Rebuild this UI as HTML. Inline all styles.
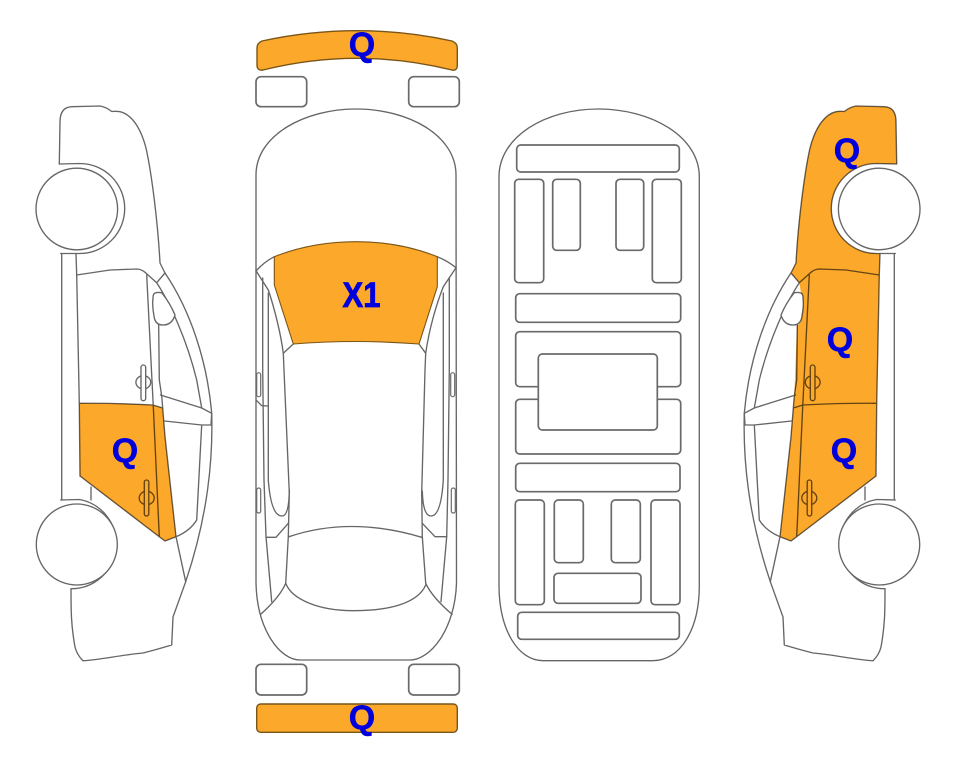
<!DOCTYPE html>
<html><head><meta charset="utf-8"><style>
html,body{margin:0;padding:0;background:#fff}
svg{display:block}
.l{fill:none;stroke:#666;stroke-width:1.35;stroke-linejoin:round;stroke-linecap:round}
.w{fill:#fff;stroke:#666;stroke-width:1.35}
.b{fill:#fff;stroke:#6a6a6a;stroke-width:1.7}
.o{fill:#fca82a;stroke:none;mix-blend-mode:multiply}
.f{fill:#fca82a;stroke:#7a5518;stroke-width:1.4;stroke-linejoin:round}
text{font-family:"Liberation Sans",sans-serif;font-weight:bold;fill:#0000dc;stroke:#0000dc;stroke-width:.5;text-anchor:middle;font-size:34px}
</style></head><body>
<svg width="963" height="768" viewBox="0 0 963 768" xmlns="http://www.w3.org/2000/svg">
<rect width="963" height="768" fill="#fff"/>
<defs>
<g id="car">
<path class="l" d="M59.3 164L60 122Q60 107 72 106.7L100 106Q106 107 111.7 111.5Q116 111 120 111.7C130 114 140 125 146 148C152 175 158 225 160 263L165 273C190 310 207 360 211.7 413C213 460 208 515 185.7 581.7L173 617L171.7 645Q155 650 143 653C120 655 100 660 83 660.7Q77 655 75 647C71 625 71 610 71 589"/>
<path class="l" d="M59.3 164L79.7 163.5A45 45 0 0 1 79.7 253.5L60.7 253.5"/>
<path class="l" d="M60.7 500L79.7 499.5A45 45 0 0 1 71 588.7"/>
<circle class="w" cx="76.8" cy="209" r="40.8"/>
<circle class="w" cx="76.8" cy="544.5" r="40.5"/>
<path class="l" d="M61.7 253.5L61.7 500M76 253.5L76.7 275L79.3 403.3L80 476M91 487L91 500"/>
<path class="l" d="M76.7 275L110 270L136.7 269Q141 269 145 272.3L156.7 282.7C170 303 187 340 196.7 380L201.7 408"/>
<path class="l" d="M165 273L156.7 282.7"/>
<path class="l" d="M146.7 275L153.3 406.7L159.3 536.7"/>
<path class="l" d="M158.3 293L159.3 380L161.7 396L165 436.7L176 536.7L185.7 581.7"/>
<path class="w" d="M155 293Q158 292 161.7 292.7Q170 303 175 315Q172 325 163 325Q155 325 154 316Q152 305 153 298Q153 294 155 293Z"/>
<path class="l" d="M160.5 395L201.7 408L211.7 413.3L211 425L201.7 425L164.5 421"/>
<path class="l" d="M201.7 425L196.7 520Q190 531 176 536.7L165 541L158.3 536L80 476"/>
<path class="l" d="M79.3 403.3Q115 403 153 405L162.7 408"/>
<ellipse class="l" cx="143.3" cy="382.3" rx="7.4" ry="6.6"/>
<rect class="w" x="141" y="365" width="4.7" height="35.7" rx="2.3"/>
<ellipse class="l" cx="146.7" cy="498" rx="7.5" ry="6.8"/>
<rect class="w" x="144.3" y="480" width="4.5" height="36" rx="2.2"/>
</g>
</defs>

<!-- left car -->
<use href="#car"/>
<path class="o" d="M79.3 403.3Q115 403 153 405L162.7 408L165 436.7L176 536.7L165 541L158.3 536L80 476Z"/>

<!-- right car -->
<g transform="translate(956 0) scale(-1 1)">
<use href="#car"/>
<path class="o" d="M59.3 164L60 122Q60 107 72 106.7L100 106Q106 107 111.7 111.5Q116 111 120 111.7C130 114 140 125 146 148C152 175 158 225 160 263L165 273L156.7 282.7L145 272.3Q141 269 136.7 269L110 270L76.7 275L76 253.5L79.7 253.5A45 45 0 0 0 79.7 163.5Z"/>
<path class="o" d="M76.7 275L110 270L136.7 269Q141 269 145 272.3L156.7 282.7L155 293Q153 294 153 298Q152 305 154 316Q155 325 159 325L161.7 396L162.7 408L165 436.7L176 536.7L165 541L158.3 536L80 476L79.3 403.3Z"/>
</g>

<!-- top view -->
<path class="f" d="M257 48Q257 43 262 41Q357 20.4 452 41Q457.3 43 457.3 48L457.3 65Q457.3 71 452 70Q357 46.6 263 70Q257 71 257 65Z"/>
<rect class="b" x="256" y="76.7" width="50.7" height="30" rx="5"/>
<rect class="b" x="408.7" y="76.7" width="50.6" height="30" rx="5"/>
<rect class="b" x="256" y="664.3" width="50.7" height="30.7" rx="5"/>
<rect class="b" x="408.7" y="664.3" width="50.6" height="30.7" rx="5"/>
<rect class="f" x="256.7" y="704" width="200.6" height="28.3" rx="4"/>

<path class="l" d="M256 175C256 135 305 109 356 109C408 109 456 135 456 175L456.5 583C455 630 430 660 410 660L300 660C280 660 257 630 256 583Z"/>
<path class="l" d="M256 271Q264 262 274.3 256.7M437.3 256.7Q448 261 456 267.7"/>
<path class="l" d="M256 270.7L268.3 290C275 310 281 335 283.3 353.3L284 370L289.3 493L288.3 536.7L285.7 583.3"/>
<path class="l" d="M456 267.7L443.3 286.7C436 305 429 330 425.7 353.3L425 370L421.7 493L422.3 536.7L425.7 583.3"/>
<path class="l" d="M283.3 353.3L293.3 344M425.7 353.3L419 344"/>
<path class="l" d="M262.7 278L262.7 370L264 480L266 536.7L271.7 601.7"/>
<path class="l" d="M449.3 278L449.3 370L448 480L446.7 536.7L441 601.7"/>
<path class="l" d="M268.3 293L268.3 480Q271 516 282 516Q289 516 289.3 490"/>
<path class="l" d="M443.3 293L443.3 480Q441 516 431 516Q423 516 422.3 491"/>
<path class="l" d="M256 400L261.7 405.7L268.3 406"/>
<rect class="b" x="256.7" y="372.7" width="4" height="24" rx="2" style="stroke-width:1.2"/>
<rect class="b" x="450.7" y="372.7" width="4" height="24" rx="2" style="stroke-width:1.2"/>
<rect class="b" x="256.7" y="488" width="4" height="25" rx="2" style="stroke-width:1.2"/>
<rect class="b" x="451.3" y="488" width="4" height="25" rx="2" style="stroke-width:1.2"/>
<path class="l" d="M266 537.3L276 537.3L288.3 523.3M422.3 523.3L435 536.7L446.7 536.7"/>
<path class="l" d="M289 536.7Q350 516 421.7 537.3"/>
<path class="l" d="M285.7 583.3C292 600 320 610.7 353 610.7C390 610.7 418 603 425.7 585"/>
<path class="l" d="M285.7 583.3Q280 597 260.7 614.3M425.7 583.3Q432 597 452 614.3"/>
<path class="f" style="stroke-width:1.1" d="M274.3 256.7Q312 241.7 356.7 241.7Q400 241.7 437.3 256.7L437.3 286.7L419 344Q356 339 293.3 344L274.3 285Z"/>

<!-- underbody -->
<path class="l" d="M499 176.7C499 137 545 109 598.3 109C652 109 699.3 137 699.3 176.7L699.3 586.7C699 630 680 660.7 653 660.7L543 660.7C518 660.7 499.5 630 499 586.7Z"/>
<rect class="b" x="516.7" y="145" width="162.6" height="27" rx="4"/>
<rect class="b" x="514.7" y="179.3" width="29" height="103.4" rx="4"/>
<rect class="b" x="552.7" y="179.3" width="27.6" height="71" rx="4"/>
<rect class="b" x="616" y="179.3" width="27.7" height="71" rx="4"/>
<rect class="b" x="652.3" y="179.3" width="29" height="103.4" rx="4"/>
<rect class="b" x="515.7" y="293.7" width="165" height="28.6" rx="4"/>
<rect class="b" x="515.7" y="331.7" width="165" height="55" rx="4"/>
<rect class="b" x="515.7" y="399.3" width="165" height="54.7" rx="4"/>
<rect class="b" x="538.3" y="354" width="119" height="76" rx="4"/>
<rect class="b" x="515.7" y="463.3" width="164.3" height="28.4" rx="4"/>
<rect class="b" x="515.3" y="500" width="29" height="104.7" rx="4"/>
<rect class="b" x="554.3" y="500" width="29" height="62.7" rx="4"/>
<rect class="b" x="611.3" y="500" width="29" height="62.7" rx="4"/>
<rect class="b" x="651" y="500" width="29" height="104.7" rx="4"/>
<rect class="b" x="554" y="573.3" width="87" height="30" rx="4"/>
<rect class="b" x="517.7" y="612.3" width="161.6" height="27" rx="4"/>

<text x="125" y="462">Q</text>
<text x="362" y="56">Q</text>
<text x="362" y="729">Q</text>
<text x="847" y="162">Q</text>
<text x="840" y="351">Q</text>
<text x="844" y="462">Q</text>
<text x="342.5" y="307" style="text-anchor:start;font-size:35px;stroke-width:.8" textLength="38" lengthAdjust="spacingAndGlyphs">X1</text>
</svg>
</body></html>
